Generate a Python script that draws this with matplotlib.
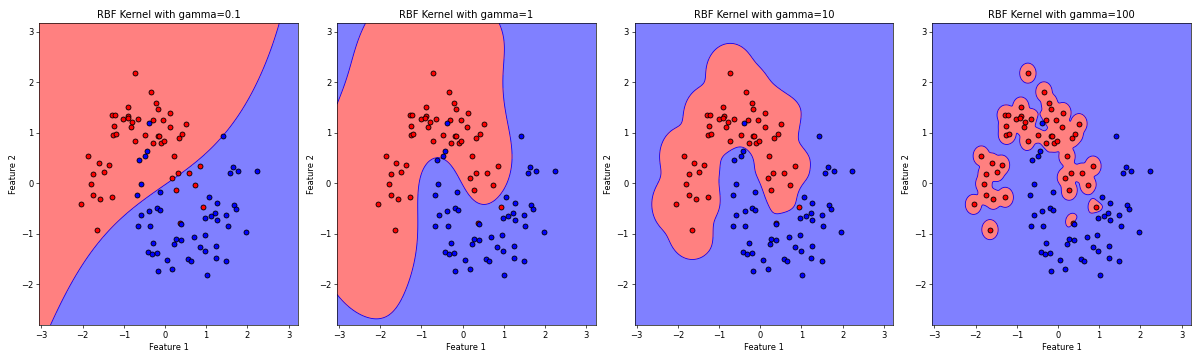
import numpy as np
import matplotlib
matplotlib.use("Agg")
import matplotlib.pyplot as plt

# points (red = upper moon, blue = lower moon)
red_x = [-0.73, -0.34, -0.21, -0.17, 0.12, -0.90, -1.29, -1.22, -0.89, -1.01,
         -0.91, -0.79, -0.65, -0.30, -0.05, -1.25, -0.83, 0.11, -1.26, -1.20,
         -0.48, -0.18, -0.15, 0.33, -0.73, -0.28, -0.10, -0.03, -1.86, 0.22,
         -1.61, -1.37, -1.49, -1.74, 0.18, 0.32, 0.51, 0.42, 0.58, 0.85,
         -1.80, -1.74, -1.57, -1.28, -2.05, -1.65, 0.27, 0.37, 0.73, 0.93]
red_y = [2.18, 1.81, 1.59, 1.47, 1.40, 1.51, 1.35, 1.35, 1.34, 1.28,
         1.30, 1.22, 1.28, 1.26, 1.26, 1.13, 1.12, 1.11, 0.96, 0.98,
         0.96, 0.93, 0.93, 0.90, 0.84, 0.80, 0.80, 0.83, 0.54, 0.53,
         0.40, 0.36, 0.23, 0.19, 0.11, 0.21, 1.18, 0.98, 0.20, 0.34,
         -0.01, -0.24, -0.32, -0.28, -0.42, -0.92, -0.14, -0.78, -0.03, -0.47]
blue_x = [-0.39, -0.43, -0.48, -0.63, 1.42, 1.64, 1.78, 1.58, 2.23, -0.59,
          -0.67, -0.13, -0.58, -0.38, -0.19, -0.12, -0.66, -0.36, -0.28, -0.42,
          -0.32, -0.20, 0.27, 0.23, 0.39, 0.06, 0.18, -0.18, 1.06, 1.26,
          1.67, 1.72, 1.22, 1.11, 0.97, 1.26, 1.49, 1.52, 1.97, 0.39,
          0.70, 0.96, 0.84, 0.98, 1.25, 0.57, 0.64, 1.24, 1.49, 1.01]
blue_y = [1.19, 0.64, 0.53, 0.45, 0.93, 0.33, 0.25, 0.20, 0.25, -0.01,
          -0.24, -0.17, -0.64, -0.55, -0.50, -0.53, -0.84, -0.84, -1.19, -1.37,
          -1.40, -1.39, -1.11, -1.21, -1.12, -1.52, -1.71, -1.74, -0.28, -0.39,
          -0.43, -0.52, -0.60, -0.66, -0.68, -0.72, -0.64, -0.84, -0.97, -0.80,
          -1.07, -1.03, -1.27, -1.34, -1.24, -1.51, -1.54, -1.49, -1.55, -1.81]

gammas = [0.1, 1, 10, 100]

X = np.column_stack([np.r_[red_x, blue_x], np.r_[red_y, blue_y]])
y = np.r_[np.ones(len(red_x)), -np.ones(len(blue_x))]


def rbf(A, B, gamma):
    d = ((A[:, None, :] - B[None, :, :]) ** 2).sum(-1)
    return np.exp(-gamma * d)


def svm_fit(X, y, gamma, C=1.0, tol=1e-3, max_iter=200000):
    # small SMO, libsvm style pair selection
    K = rbf(X, X, gamma)
    Q = K * np.outer(y, y)
    a = np.zeros(len(y))
    G = -np.ones(len(y))
    for _ in range(max_iter):
        yG = -y * G
        up = ((y > 0) & (a < C)) | ((y < 0) & (a > 0))
        low = ((y < 0) & (a < C)) | ((y > 0) & (a > 0))
        i = np.where(up)[0][np.argmax(yG[up])]
        j = np.where(low)[0][np.argmin(yG[low])]
        m, M = yG[i], yG[j]
        if m - M < tol:
            break
        eta = max(K[i, i] + K[j, j] - 2 * K[i, j], 1e-12)
        t = (m - M) / eta
        t = min(t, C - a[i] if y[i] > 0 else a[i])
        t = min(t, a[j] if y[j] > 0 else C - a[j])
        di, dj = y[i] * t, -y[j] * t
        a[i] += di
        a[j] += dj
        G += Q[:, i] * di + Q[:, j] * dj
    return a, (m + M) / 2


x_min, x_max = X[:, 0].min() - 1, X[:, 0].max() + 1
y_min, y_max = X[:, 1].min() - 1, X[:, 1].max() + 1
xx, yy = np.meshgrid(np.arange(x_min, x_max, 0.01), np.arange(y_min, y_max, 0.01))
grid = np.c_[xx.ravel(), yy.ravel()]

fig, axes = plt.subplots(1, 4, figsize=(20, 6), dpi=60)
fig.subplots_adjust(left=0.0328, right=0.9925, bottom=0.0972, top=0.937, wspace=0.1506)

for ax, g in zip(axes, gammas):
    a, b = svm_fit(X, y, g)
    Z = (rbf(grid, X, g) @ (a * y) + b).reshape(xx.shape)
    ax.contourf(xx, yy, Z, levels=[Z.min() - 1, 0, Z.max() + 1],
                colors=['#8080ff', '#ff8080'])
    ax.contour(xx, yy, Z, levels=[0], colors='blue', linewidths=1)
    ax.scatter(red_x, red_y, c='red', edgecolors='k', s=35, zorder=3)
    ax.scatter(blue_x, blue_y, c='blue', edgecolors='k', s=35, zorder=3)
    ax.set_xlim(x_min, x_max)
    ax.set_ylim(y_min, y_max)
    ax.set_title(f"RBF Kernel with gamma={g}")
    ax.set_xlabel("Feature 1")
    ax.set_ylabel("Feature 2")

plt.savefig("out.png", dpi=60)
